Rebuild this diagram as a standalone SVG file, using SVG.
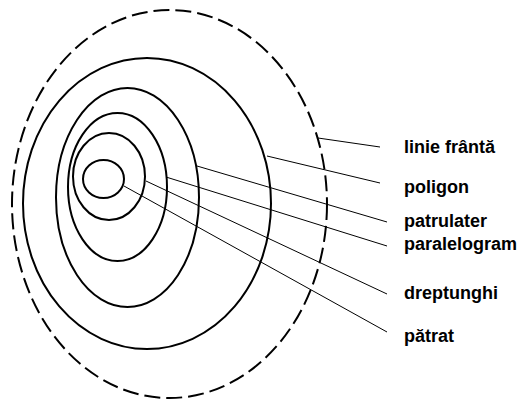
<svg xmlns="http://www.w3.org/2000/svg" width="528" height="401" viewBox="0 0 528 401">
<style>
.e{fill:none;stroke:#000;stroke-width:2}
.d{stroke-dasharray:16 6}
.c{stroke:#000;stroke-width:1}
.t{font-family:"Liberation Sans",Arial,sans-serif;font-weight:bold;font-size:18px;fill:#000}
</style>
<rect width="528" height="401" fill="#fff"/>
<g id="linie-franta"><ellipse class="e d" cx="169.5" cy="204" rx="157.5" ry="194"/><text class="t" x="404" y="153">linie frântă</text></g>
<g id="poligon"><ellipse class="e" cx="147" cy="203.5" rx="124" ry="145.5"/><text class="t" x="404" y="193">poligon</text></g>
<g id="patrulater"><ellipse class="e" cx="127.5" cy="197.5" rx="71.5" ry="109.5"/><text class="t" x="404" y="227">patrulater</text></g>
<g id="paralelogram"><ellipse class="e" cx="117.5" cy="187" rx="49.5" ry="74"/><text class="t" x="404" y="250">paralelogram</text></g>
<g id="dreptunghi"><ellipse class="e" cx="109" cy="176.5" rx="36" ry="43.5"/><text class="t" x="404" y="299">dreptunghi</text></g>
<g id="patrat"><ellipse class="e" cx="103.5" cy="179" rx="20.5" ry="19"/><text class="t" x="404" y="342">pătrat</text></g>
<g id="connectors">
<line class="c" x1="318" y1="138" x2="380" y2="147"/>
<line class="c" x1="267" y1="156" x2="380" y2="183"/>
<line class="c" x1="197" y1="166" x2="387" y2="222"/>
<line class="c" x1="166" y1="177" x2="387" y2="246"/>
<line class="c" x1="146" y1="181" x2="387" y2="294"/>
<line class="c" x1="124" y1="186" x2="387" y2="332"/>
</g>
</svg>
